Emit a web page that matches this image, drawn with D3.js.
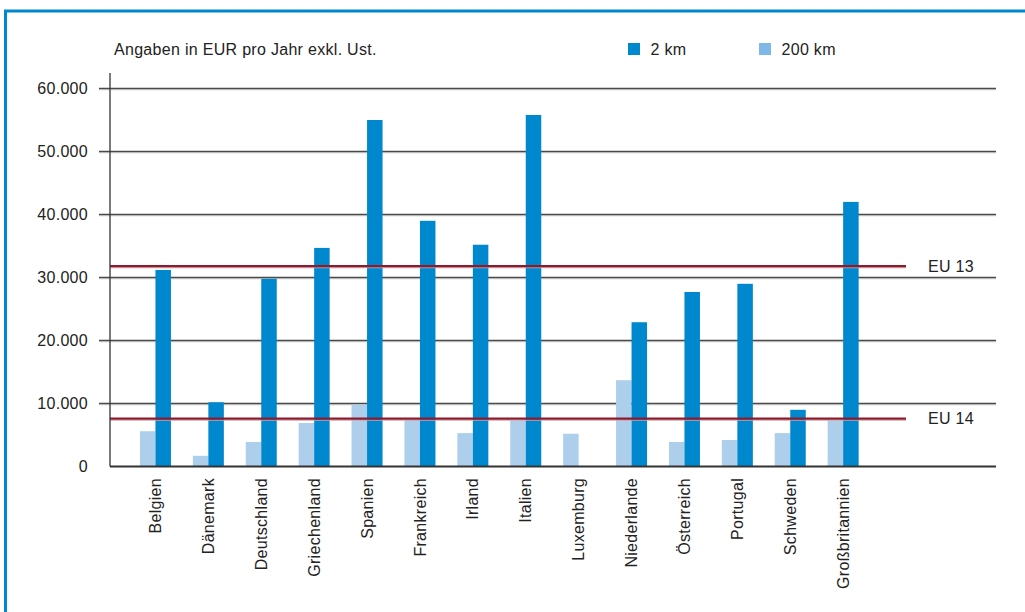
<!DOCTYPE html>
<html>
<head>
<meta charset="utf-8">
<script src="https://cdn.jsdelivr.net/npm/d3@7"></script>
<style>
  html, body { margin: 0; padding: 0; background: #fff; }
  svg { display: block; font-family: "Liberation Sans", Arial, sans-serif; letter-spacing: 0.3px; }
</style>
</head>
<body>
<svg id="chart" width="1025" height="612"></svg>
<script>
// Jahreskosten je Land, Angaben in EUR pro Jahr exkl. USt.
const categories = ["Belgien", "Dänemark", "Deutschland", "Griechenland", "Spanien", "Frankreich",
  "Irland", "Italien", "Luxemburg", "Niederlande", "Österreich", "Portugal", "Schweden", "Großbritannien"];
const values2km   = [31200, 10200, 29800, 34700, 55000, 39000, 35200, 55800, null, 22900, 27700, 29000, 9000, 42000];
const values200km = [5600, 1700, 3900, 6900, 9800, 7400, 5300, 7300, 5200, 13700, 3900, 4200, 5300, 7300];
const yTicks = [0, 10000, 20000, 30000, 40000, 50000, 60000];
const referenceLines = [
  { label: "EU 13", value: 31800 },
  { label: "EU 14", value: 7600 }
];
const seriesNames = ["200 km", "2 km"];           // bar order within a group
const legendItems = ["2 km", "200 km"];

const colors = { "2 km": "#0088cf", "200 km": "#aecfec" };
const legendColors = { "2 km": "#0088cf", "200 km": "#7db8e6" };

const svg = d3.select("#chart");
const fmt = d3.formatLocale({ decimal: ",", thousands: ".", grouping: [3], currency: ["", " €"] }).format(",d");

const axisX = 110, gridLeft = 99, gridRight = 996, refRight = 906;

const y = d3.scaleLinear().domain([0, 60000]).range([466.5, 88.5]);
const x = d3.scaleBand().domain(categories).range([129, 869.6]).paddingInner(0.414).paddingOuter(0.207);
const xs = d3.scaleBand().domain(seriesNames).range([0, x.bandwidth()]);

// Rahmen
svg.append("rect")
  .attr("x", 5.5).attr("y", 11).attr("width", 1100).attr("height", 700)
  .attr("fill", "none").attr("stroke", "#0088cf").attr("stroke-width", 3);

// Gitternetz
const grid = svg.append("g");
yTicks.filter(d => d > 0).forEach(t => {
  grid.append("line").attr("x1", gridLeft).attr("x2", gridRight)
    .attr("y1", y(t) + 1.3).attr("y2", y(t) + 1.3)
    .attr("stroke", "#d0d0d0").attr("stroke-width", 1);
  grid.append("line").attr("x1", gridLeft).attr("x2", gridRight)
    .attr("y1", y(t)).attr("y2", y(t))
    .attr("stroke", "#4a4a4a").attr("stroke-width", 1.3);
});

// y-Achse mit Beschriftung
const yAxis = d3.axisLeft(y).tickValues(yTicks).tickFormat(fmt).tickSize(0).tickPadding(22);
const yg = svg.append("g").attr("transform", `translate(${axisX},0)`).call(yAxis);
yg.select(".domain").remove();
yg.selectAll("text").attr("font-size", 16).attr("fill", "#222")
  .attr("font-family", "'Liberation Sans', Arial, sans-serif");

// Balken
const groups = svg.append("g").selectAll("g")
  .data(categories).join("g")
  .attr("transform", d => `translate(${x(d)},0)`);

groups.selectAll("rect")
  .data((d, i) => [
    { s: "200 km", v: values200km[i] },
    { s: "2 km", v: values2km[i] }
  ].filter(o => o.v != null))
  .join("rect")
  .attr("x", d => xs(d.s))
  .attr("width", xs.bandwidth())
  .attr("y", d => y(d.v))
  .attr("height", d => y(0) - y(d.v))
  .attr("fill", d => colors[d.s]);

// Referenzlinien EU 13 / EU 14
const ref = svg.append("g");
referenceLines.forEach(r => {
  ref.append("line").attr("x1", axisX).attr("x2", refRight)
    .attr("y1", y(r.value) + 1.6).attr("y2", y(r.value) + 1.6)
    .attr("stroke", "#c9a2a8").attr("stroke-width", 1);
  ref.append("line").attr("x1", axisX).attr("x2", refRight)
    .attr("y1", y(r.value)).attr("y2", y(r.value))
    .attr("stroke", "#8e1a2c").attr("stroke-width", 2.2);
  ref.append("text").attr("x", 928).attr("y", y(r.value)).attr("dy", "0.35em")
    .attr("font-size", 16).attr("fill", "#222").text(r.label);
});

// Achsenlinien
svg.append("line").attr("x1", axisX).attr("x2", axisX).attr("y1", 73).attr("y2", y(0))
  .attr("stroke", "#333").attr("stroke-width", 1.3);
svg.append("line").attr("x1", axisX).attr("x2", gridRight).attr("y1", y(0)).attr("y2", y(0))
  .attr("stroke", "#333").attr("stroke-width", 2);

// Kategorienbeschriftung (gedreht)
svg.append("g").selectAll("text")
  .data(categories).join("text")
  .attr("transform", d => `translate(${x(d) + x.bandwidth() / 2},478) rotate(-90)`)
  .attr("text-anchor", "end").attr("dy", "0.35em")
  .attr("font-size", 16).attr("fill", "#222")
  .text(d => d);

// Einheit und Legende
svg.append("text").attr("x", 114).attr("y", 55).attr("font-size", 16).attr("fill", "#222")
  .text("Angaben in EUR pro Jahr exkl. Ust.");

const legendX = d3.scalePoint().domain(legendItems).range([628, 759]);
const lg = svg.append("g").selectAll("g").data(legendItems).join("g")
  .attr("transform", d => `translate(${legendX(d)},43)`);
lg.append("rect").attr("width", 12).attr("height", 12).attr("fill", d => legendColors[d]);
lg.append("text").attr("x", 22.5).attr("y", 12).attr("font-size", 16).attr("fill", "#222").text(d => d);
</script>
</body>
</html>
